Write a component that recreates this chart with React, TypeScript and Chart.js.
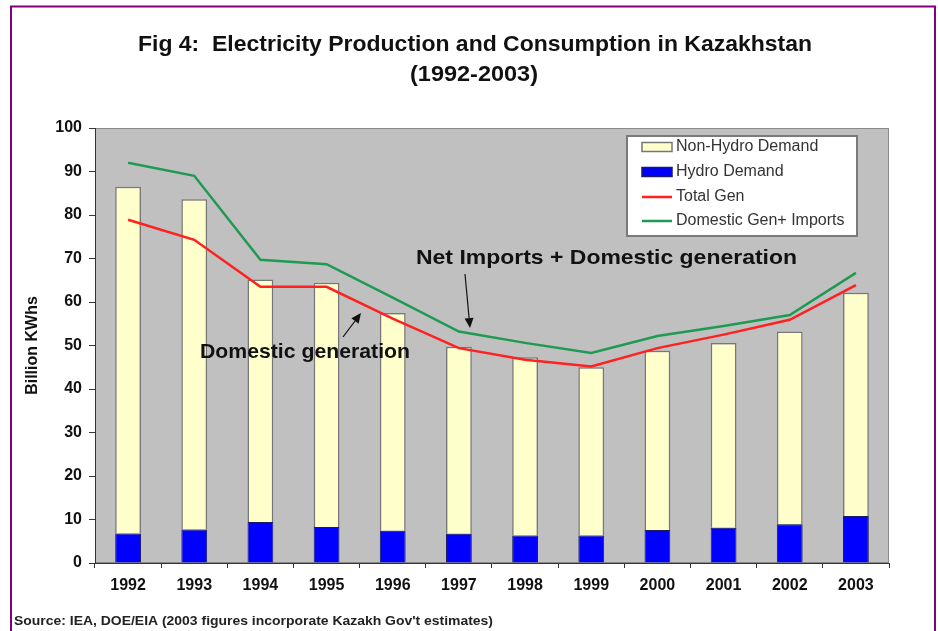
import { useEffect, useRef } from 'react';
import { Chart, registerables } from 'chart.js';

Chart.register(...registerables);

const years = ['1992', '1993', '1994', '1995', '1996', '1997', '1998', '1999', '2000', '2001', '2002', '2003'];
const hydroDemand = [6.8, 7.7, 9.4, 8.3, 7.4, 6.7, 6.3, 6.3, 7.6, 8.1, 8.9, 10.8];
const nonHydroDemand = [79.7, 75.9, 55.8, 56.1, 50.1, 43.0, 41.0, 38.7, 41.2, 42.5, 44.3, 51.3];
const totalGen = [78.9, 74.3, 63.5, 63.5, 56.2, 49.4, 46.7, 45.2, 49.4, 52.5, 55.9, 63.9];
const domesticGenImports = [92.0, 89.0, 69.7, 68.7, 61.0, 53.2, 50.6, 48.3, 52.2, 54.5, 57.0, 66.7];
const yTicks = { min: 0, max: 100, step: 10 };

const FONT = '"Liberation Sans", Arial, sans-serif';

const YELLOW = '#FFFFCC';
const BLUE = '#0000FF';
const RED = '#FF2020';
const GREEN = '#1F9A52';

function fitText(ctx: CanvasRenderingContext2D, text: string, x: number, y: number, w: number, align: CanvasTextAlign) {
  const m = ctx.measureText(text).width;
  const sx = w / m;
  ctx.save();
  ctx.translate(x, y);
  ctx.scale(sx, 1);
  ctx.textAlign = align;
  ctx.fillText(text, 0, 0);
  ctx.restore();
}

function arrow(ctx: CanvasRenderingContext2D, x1: number, y1: number, x2: number, y2: number) {
  const ang = Math.atan2(y2 - y1, x2 - x1);
  const len = 10;
  const w = 4.5;
  const bx = x2 - len * Math.cos(ang);
  const by = y2 - len * Math.sin(ang);
  ctx.strokeStyle = '#111';
  ctx.fillStyle = '#111';
  ctx.lineWidth = 1.2;
  ctx.beginPath();
  ctx.moveTo(x1, y1);
  ctx.lineTo(bx, by);
  ctx.stroke();
  ctx.beginPath();
  ctx.moveTo(x2, y2);
  ctx.lineTo(bx + w * Math.sin(ang), by - w * Math.cos(ang));
  ctx.lineTo(bx - w * Math.sin(ang), by + w * Math.cos(ang));
  ctx.closePath();
  ctx.fill();
}

const decorPlugin = {
  id: 'decor',
  beforeDraw(chart: any) {
    const { ctx, chartArea: a } = chart;
    ctx.save();
    ctx.fillStyle = '#ffffff';
    ctx.fillRect(0, 0, chart.width, chart.height);
    ctx.fillStyle = '#C0C0C0';
    ctx.fillRect(a.left, a.top, a.right - a.left, a.bottom - a.top);
    ctx.strokeStyle = '#8a8a8a';
    ctx.lineWidth = 1;
    ctx.strokeRect(a.left + 0.5, a.top + 0.5, a.right - a.left - 1, a.bottom - a.top - 1);
    ctx.restore();
  },
  afterDraw(chart: any) {
    const { ctx } = chart;
    ctx.save();
    // frame
    ctx.strokeStyle = '#800080';
    ctx.lineWidth = 2;
    ctx.beginPath();
    ctx.moveTo(11, 631);
    ctx.lineTo(11, 6.5);
    ctx.lineTo(935, 6.5);
    ctx.lineTo(935, 631);
    ctx.stroke();

    // title
    ctx.fillStyle = '#111';
    ctx.textBaseline = 'middle';
    ctx.font = `bold 22px ${FONT}`;
    fitText(ctx, 'Fig 4:  Electricity Production and Consumption in Kazakhstan', 475, 45, 674, 'center');
    fitText(ctx, '(1992-2003)', 474, 75, 128, 'center');

    // source
    ctx.font = `bold 12px ${FONT}`;
    ctx.fillStyle = '#222';
    fitText(ctx, "Source: IEA, DOE/EIA (2003 figures incorporate Kazakh Gov't estimates)", 14, 622, 479, 'left');

    // legend
    const lx = 627, ly = 136, lw = 230, lh = 100;
    ctx.fillStyle = '#ffffff';
    ctx.fillRect(lx, ly, lw, lh);
    ctx.strokeStyle = '#7a7a7a';
    ctx.lineWidth = 2;
    ctx.strokeRect(lx, ly, lw, lh);
    const rows = [147, 172, 197, 221];
    const ds = chart.data.datasets;
    const legendItems = [ds[1], ds[0], ds[2], ds[3]];
    ctx.font = `16px ${FONT}`;
    ctx.textBaseline = 'middle';
    ctx.textAlign = 'left';
    legendItems.forEach((d: any, i: number) => {
      const y = rows[i];
      if (d.type === 'line') {
        ctx.strokeStyle = d.borderColor;
        ctx.lineWidth = 2.5;
        ctx.beginPath();
        ctx.moveTo(642, y);
        ctx.lineTo(672, y);
        ctx.stroke();
      } else {
        ctx.fillStyle = d.backgroundColor;
        ctx.fillRect(642, y - 4.5, 30, 9);
        ctx.strokeStyle = d.borderColor;
        ctx.lineWidth = 1.5;
        ctx.strokeRect(642, y - 4.5, 30, 9);
      }
      ctx.fillStyle = '#333';
      ctx.fillText(d.label, 676, y);
    });

    // annotations
    ctx.fillStyle = '#111';
    ctx.font = `bold 21px ${FONT}`;
    fitText(ctx, 'Net Imports + Domestic generation', 416, 258, 381, 'left');
    fitText(ctx, 'Domestic generation', 200, 352, 210, 'left');
    arrow(ctx, 465, 274, 470, 328);
    arrow(ctx, 343, 337, 361, 313);
    ctx.restore();
  },
};

export default function App() {
  const ref = useRef<HTMLCanvasElement>(null);
  useEffect(() => {
    if (!ref.current) return;
    const chart = new Chart(ref.current, {
      type: 'bar',
      data: {
        labels: years,
        datasets: [
          {
            type: 'bar',
            label: 'Hydro Demand',
            data: hydroDemand,
            backgroundColor: BLUE,
            borderColor: '#1a1a66',
            borderWidth: 1,
            stack: 'demand',
            order: 1,
            barPercentage: 0.39,
            categoryPercentage: 1,
          },
          {
            type: 'bar',
            label: 'Non-Hydro Demand',
            data: nonHydroDemand,
            backgroundColor: YELLOW,
            borderColor: '#777777',
            borderWidth: 1.5,
            stack: 'demand',
            order: 2,
            barPercentage: 0.39,
            categoryPercentage: 1,
          },
          {
            type: 'line',
            label: 'Total Gen',
            data: totalGen,
            borderColor: RED,
            backgroundColor: RED,
            borderWidth: 2.5,
            pointRadius: 0,
            tension: 0,
            stack: 'gen',
            order: 0,
          },
          {
            type: 'line',
            label: 'Domestic Gen+ Imports',
            data: domesticGenImports,
            borderColor: GREEN,
            backgroundColor: GREEN,
            borderWidth: 2.5,
            pointRadius: 0,
            tension: 0,
            stack: 'genimp',
            order: 0,
          },
        ] as any,
      },
      options: {
        responsive: false,
        animation: false,
        layout: { padding: { top: 128, right: 49, left: 0, bottom: 0 } },
        plugins: {
          legend: { display: false },
          title: { display: false },
          tooltip: { enabled: false },
        },
        scales: {
          x: {
            stacked: true,
            offset: true,
            grid: { display: true, drawOnChartArea: false, drawTicks: true, tickLength: 5, offset: true, color: '#333' },
            border: { color: '#333', width: 1 },
            ticks: { color: '#111', font: { family: FONT, size: 16, weight: 'bold' }, padding: 8 },
            afterFit: (s: any) => { s.height = 68; },
          },
          y: {
            stacked: true,
            min: yTicks.min,
            max: yTicks.max,
            ticks: { stepSize: yTicks.step, color: '#111', font: { family: FONT, size: 16, weight: 'bold' }, padding: 7 },
            grid: { display: true, drawOnChartArea: false, drawTicks: true, tickLength: 6, color: '#333' },
            border: { color: '#333', width: 1 },
            title: {
              display: true,
              text: 'Billion KWhs',
              color: '#111',
              font: { family: FONT, size: 16, weight: 'bold' },
              padding: { top: 23, bottom: 0 },
            },
            afterFit: (s: any) => { s.width = 95; },
          },
        },
      },
      plugins: [decorPlugin],
    } as any);
    return () => chart.destroy();
  }, []);
  return (
    <div style={{ position: 'absolute', left: 0, top: 0, width: 938, height: 631 }}>
      <canvas ref={ref} width={938} height={631} />
    </div>
  );
}
